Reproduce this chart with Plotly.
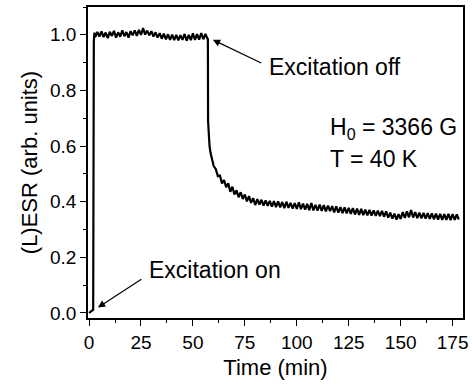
import plotly.graph_objects as go

# Time (min)
time_min = [0, 0.5, 1, 1.5, 2, 2.3, 2.6, 3] + list(range(4, 58)) + [57.2, 57.3, 57.6, 58.0, 58.5, 59.0] + list(range(60, 179))

esr = [
    0.000, 0.003, 0.006, 0.008, 0.012, 0.975, 1.008, 0.992,
    # 4 .. 57
    1.010, 0.994, 1.012, 0.992, 1.008, 0.988, 1.011, 0.996, 1.014, 0.990,
    1.009, 0.993, 1.016, 0.995, 1.010, 0.990, 1.013, 0.998, 1.016, 0.996,
    1.018, 1.000, 1.024, 1.001, 1.015, 0.998, 1.013, 0.994, 1.009, 0.990,
    1.006, 0.986, 1.004, 0.984, 1.002, 0.982, 1.001, 0.981, 1.000, 0.980,
    0.999, 0.982, 1.003, 0.979, 1.000, 0.981, 1.005, 0.982, 1.002, 0.983,
    1.006, 0.984, 1.003, 0.986,
    # 57.2 .. 59
    0.985, 0.690, 0.640, 0.600, 0.575, 0.560,
    # 60 .. 79
    0.528, 0.518, 0.492, 0.494, 0.466, 0.478, 0.452, 0.466, 0.436, 0.454,
    0.426, 0.441, 0.416, 0.434, 0.410, 0.426, 0.401, 0.420, 0.396, 0.413,
    # 80 .. 119
    0.388, 0.409, 0.390, 0.407, 0.386, 0.405, 0.385, 0.403, 0.382, 0.402,
    0.381, 0.401, 0.380, 0.399, 0.377, 0.400, 0.378, 0.396, 0.375, 0.395,
    0.374, 0.398, 0.373, 0.393, 0.372, 0.392, 0.370, 0.395, 0.369, 0.389,
    0.368, 0.390, 0.367, 0.388, 0.365, 0.386, 0.366, 0.384, 0.362, 0.383,
    # 120 .. 159
    0.361, 0.381, 0.359, 0.380, 0.358, 0.378, 0.356, 0.377, 0.354, 0.375,
    0.353, 0.374, 0.352, 0.372, 0.351, 0.371, 0.350, 0.369, 0.349, 0.368,
    0.348, 0.367, 0.346, 0.365, 0.343, 0.361, 0.339, 0.357, 0.336, 0.355,
    0.338, 0.363, 0.342, 0.365, 0.344, 0.370, 0.343, 0.363, 0.341, 0.361,
    # 160 .. 178
    0.340, 0.360, 0.339, 0.359, 0.338, 0.358, 0.337, 0.357, 0.336, 0.356,
    0.335, 0.355, 0.335, 0.356, 0.334, 0.355, 0.335, 0.354, 0.336,
]

x_ticks = [0, 25, 50, 75, 100, 125, 150, 175]
y_ticks = [0.0, 0.2, 0.4, 0.6, 0.8, 1.0]
y_tick_labels = ["0.0", "0.2", "0.4", "0.6", "0.8", "1.0"]

FONT = "Liberation Sans, Arial, Helvetica, sans-serif"

fig = go.Figure()
fig.add_trace(go.Scatter(
    x=time_min, y=esr, mode="lines",
    line=dict(color="black", width=2.2),
    hoverinfo="skip", showlegend=False,
))

axis_common = dict(
    showline=True, linecolor="black", linewidth=1.5, mirror=True,
    ticks="outside", ticklen=6, tickwidth=1.3, tickcolor="black",
    showgrid=False, zeroline=False,
    tickfont=dict(family=FONT, size=19, color="black"),
)

fig.update_xaxes(
    range=[-0.5, 180], tickmode="array", tickvals=x_ticks,
    title=dict(text="Time (min)", font=dict(family=FONT, size=22, color="black"), standoff=8),
    minor=dict(ticks="outside", ticklen=3, tickwidth=1.2, tickcolor="black", dtick=12.5, tick0=0),
    **axis_common,
)
fig.update_yaxes(
    range=[-0.018, 1.1], tickmode="array", tickvals=y_ticks, ticktext=y_tick_labels,
    title=dict(text="(L)ESR (arb. units)", font=dict(family=FONT, size=22, color="black"), standoff=6),
    minor=dict(ticks="outside", ticklen=3, tickwidth=1.2, tickcolor="black", dtick=0.1, tick0=0),
    **axis_common,
)

ann_font = dict(family=FONT, size=23, color="black")
fig.add_annotation(x=59.6, y=0.982, ax=83.6, ay=0.896, axref="x", ayref="y",
                   showarrow=True, arrowhead=2, arrowsize=1.2, arrowwidth=1.2,
                   arrowcolor="black", text="")
fig.add_annotation(x=85.5, y=0.886, text="Excitation off", showarrow=False,
                   xanchor="left", yanchor="middle", font=ann_font)
fig.add_annotation(x=4.3, y=0.02, ax=25.9, ay=0.125, axref="x", ayref="y",
                   showarrow=True, arrowhead=2, arrowsize=1.2, arrowwidth=1.2,
                   arrowcolor="black", text="")
fig.add_annotation(x=27.8, y=0.154, text="Excitation on", showarrow=False,
                   xanchor="left", yanchor="middle", font=ann_font)
fig.add_annotation(x=114.8, y=0.664, text="H<sub>0</sub> = 3366 G", showarrow=False,
                   xanchor="left", yanchor="middle", font=ann_font)
fig.add_annotation(x=114.8, y=0.554, text="T = 40 K", showarrow=False,
                   xanchor="left", yanchor="middle", font=ann_font)

fig.update_layout(
    width=473, height=392,
    margin=dict(l=88, r=10, t=5, b=74),
    paper_bgcolor="white", plot_bgcolor="white",
    font=dict(family=FONT, color="black"),
)

fig.write_html("out.html")
